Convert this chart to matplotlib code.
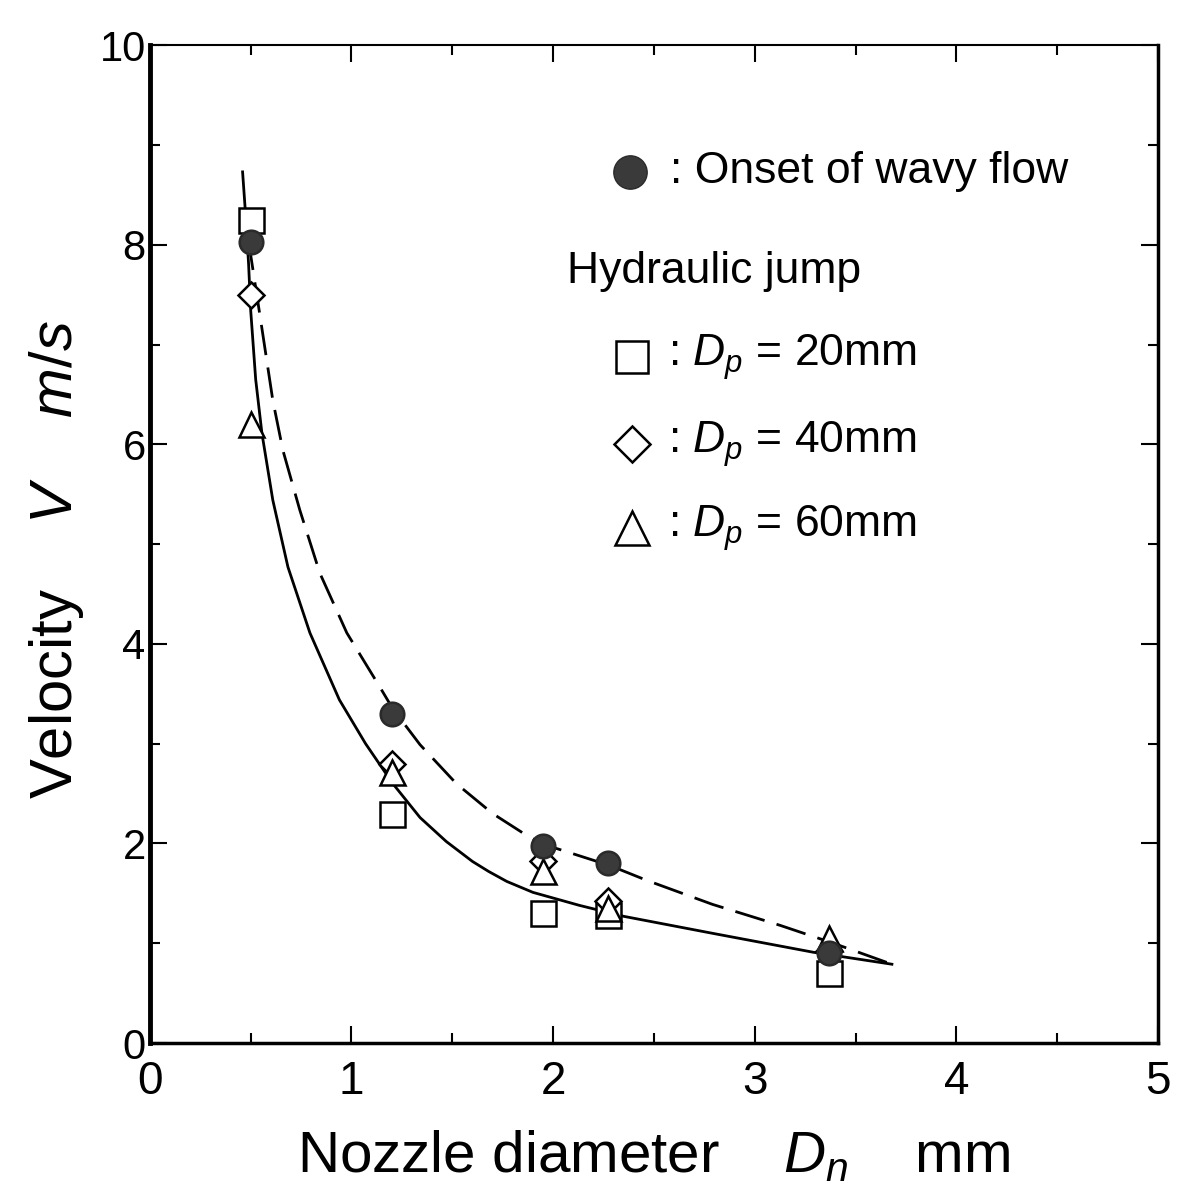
import matplotlib
matplotlib.use("Agg")
import matplotlib.pyplot as plt

plt.rcParams['font.family'] = ['Liberation Sans', 'DejaVu Sans']
plt.rcParams['mathtext.fontset'] = 'custom'
plt.rcParams['mathtext.rm'] = 'Liberation Sans'
plt.rcParams['mathtext.it'] = 'Liberation Sans:italic'

# nozzle diameters (mm)
dn = [0.50, 1.20, 1.95, 2.27, 3.37]

# onset of wavy flow
v_wavy = [8.03, 3.30, 1.97, 1.80, 0.90]
# hydraulic jump, plate diameters 20 / 40 / 60 mm
v_dp20 = [8.25, 2.30, 1.30, 1.28, 0.70]
v_dp40 = [7.50, 2.80, 1.82, 1.42, 0.92]
v_dp60 = [6.20, 2.72, 1.72, 1.35, 1.05]

# curves
solid_x = [0.46, 0.475, 0.49, 0.50, 0.525, 0.556, 0.61, 0.685, 0.794, 0.94,
           1.07, 1.205, 1.34, 1.47, 1.60, 1.68, 1.77, 1.90, 2.13, 2.35, 2.79,
           3.29, 3.68]
solid_y = [8.73, 8.30, 7.80, 7.35, 6.65, 6.11, 5.44, 4.77, 4.11, 3.44,
           3.00, 2.60, 2.26, 2.02, 1.82, 1.72, 1.62, 1.51, 1.38, 1.27, 1.10,
           0.91, 0.79]
dash_x = [0.49, 0.50, 0.55, 0.61, 0.66, 0.744, 0.843, 0.977, 1.14, 1.205,
          1.34, 1.52, 1.70, 1.885, 1.97, 2.28, 2.465, 2.79, 3.125, 3.39, 3.68]
dash_y = [8.05, 7.90, 7.24, 6.44, 5.94, 5.34, 4.71, 4.11, 3.57, 3.35,
          2.99, 2.60, 2.30, 2.06, 1.98, 1.78, 1.63, 1.39, 1.18, 1.00, 0.79]

fig = plt.figure(figsize=(11.89, 11.88), dpi=100)
ax = fig.add_axes([0.126, 0.122, 0.848, 0.840])

ax.plot(solid_x, solid_y, color='k', lw=2.0, zorder=2)
ln, = ax.plot(dash_x, dash_y, color='k', lw=2.0, zorder=2)
ln.set_dashes([11, 4.5])

mk = dict(ls='none', mew=1.8, zorder=3)
ax.plot(dn, v_dp20, marker='s', ms=18, mfc='white', mec='k', **mk)
ax.plot(dn, v_dp40, marker='D', ms=13, mfc='white', mec='k', **mk)
ax.plot(dn, v_dp60, marker='^', ms=18, mfc='white', mec='k', **mk)
ax.plot(dn, v_wavy, marker='o', ms=17, mfc='#3a3a3a', mec='#2a2a2a', **mk)

# legend drawn by hand like the original
tr = ax.transAxes
fs = 32
ax.plot([0.476], [0.873], marker='o', ms=24, mfc='#3a3a3a', mec='#2a2a2a', transform=tr, clip_on=False)
ax.text(0.516, 0.873, ': Onset of wavy flow', transform=tr, fontsize=fs, va='center')
ax.text(0.414, 0.773, 'Hydraulic jump', transform=tr, fontsize=fs, va='center')
legend_rows = [('s', 23, 0.687, '20mm'), ('D', 18, 0.600, '40mm'), ('^', 24, 0.516, '60mm')]
for m, s, y, lab in legend_rows:
    ax.plot([0.478], [y], marker=m, ms=s, mfc='white', mec='k', mew=1.8, transform=tr, clip_on=False)
    ax.text(0.514, y, ': $D_p$ = ' + lab, transform=tr, fontsize=fs, va='center')

ax.set_xlim(0, 5)
ax.set_ylim(0, 10)
ax.set_xticks([0, 1, 2, 3, 4, 5])
ax.set_yticks([0, 2, 4, 6, 8, 10])
ax.set_xticks([0.5, 1.5, 2.5, 3.5, 4.5], minor=True)
ax.set_yticks([1, 3, 5, 7, 9], minor=True)
ax.tick_params(which='both', direction='in', top=True, right=True, width=1.5)
ax.tick_params(which='major', length=12)
ax.tick_params(which='minor', length=7)
ax.tick_params(axis='y', pad=3, labelsize=30)
ax.tick_params(axis='x', pad=12, labelsize=33)

ax.spines['left'].set_linewidth(3.5)
ax.spines['bottom'].set_linewidth(2.5)
ax.spines['right'].set_linewidth(2.5)
ax.spines['top'].set_linewidth(1.5)

ax.set_xlabel('Nozzle diameter    $D_n$    mm', fontsize=42, labelpad=18)
ax.set_ylabel('Velocity    $V$    $m/s$', fontsize=43)
ax.yaxis.set_label_coords(-0.063, 0.485)

fig.savefig('out.png', dpi=100)
